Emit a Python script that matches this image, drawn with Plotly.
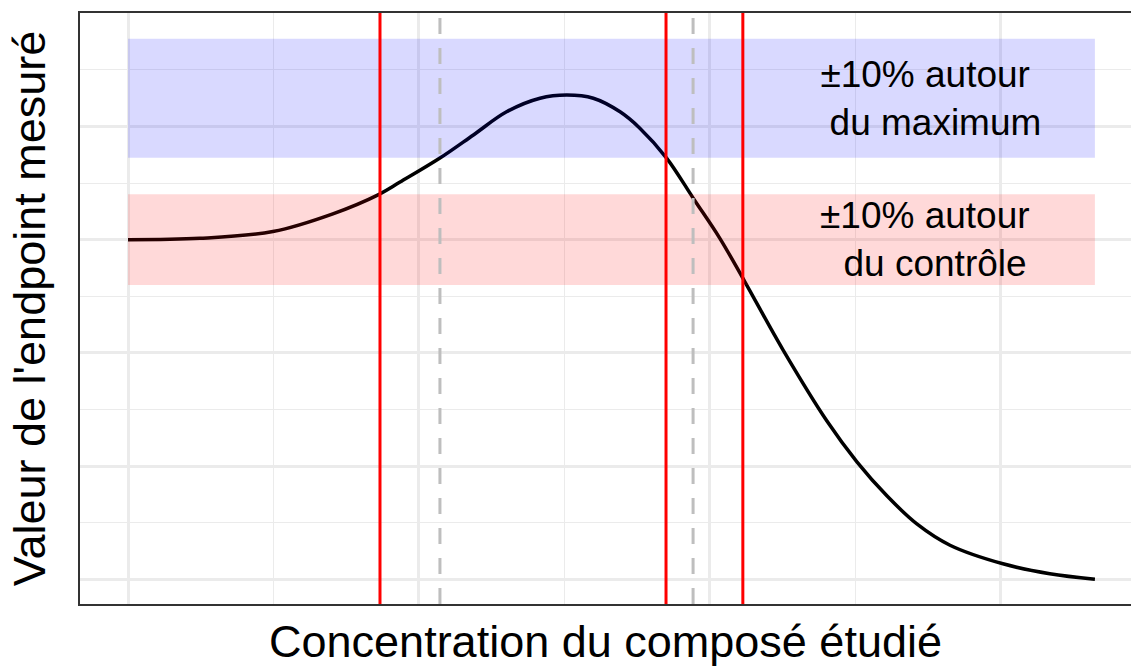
import plotly.graph_objects as go

# ---- data ----
x_curve = [0.000, 0.247, 0.498, 0.704, 0.863, 0.935, 1.072, 1.187, 1.301, 1.416,
           1.508, 1.599, 1.691, 1.759, 1.851, 1.943, 2.034, 2.120, 2.251, 2.402,
           2.505, 2.608, 2.711, 2.825, 3.007, 3.168, 3.323]
y_curve = [100.0, 100.3, 101.8, 105.7, 110.0, 112.7, 118.0, 123.1, 128.2, 131.2,
           131.9, 131.2, 128.2, 124.6, 118.0, 109.1, 100.3, 90.7, 75.7, 60.0,
           51.0, 43.5, 37.3, 32.6, 28.5, 26.3, 25.1]
control_value = 100.0
max_value = 131.2
band_pct = 0.10
red_lines_x = [0.866, 1.849, 2.113]
dashed_lines_x = [1.072, 1.942]
label_x = 2.739
label_max = ["±10% autour", "\u00a0\u00a0du maximum"]
label_ctrl = ["±10% autour", "\u00a0\u00a0du contrôle"]
x_ticks = [0, 1, 2, 3]
y_ticks = [25, 50, 75, 100, 125]
x_title = "Concentration du composé étudié"
y_title = "Valeur de l'endpoint mesuré"

FONT = "Liberation Sans, Arial, Helvetica, sans-serif"

fig = go.Figure()
fig.add_trace(go.Scatter(x=x_curve, y=y_curve, mode="lines",
                         line=dict(color="black", width=3.5, shape="spline", smoothing=1.0),
                         hoverinfo="skip", showlegend=False))

x_lo, x_hi = min(x_curve), max(x_curve)
# bands (drawn above the curve, semi-transparent)
fig.add_shape(type="rect", xref="x", yref="y", x0=x_lo, x1=x_hi,
              y0=max_value * (1 - band_pct), y1=max_value * (1 + band_pct),
              fillcolor="rgba(0,0,255,0.15)", line=dict(width=0), layer="above")
fig.add_shape(type="rect", xref="x", yref="y", x0=x_lo, x1=x_hi,
              y0=control_value * (1 - band_pct), y1=control_value * (1 + band_pct),
              fillcolor="rgba(255,0,0,0.15)", line=dict(width=0), layer="above")

for xv in dashed_lines_x:
    fig.add_shape(type="line", xref="x", yref="paper", x0=xv, x1=xv, y0=0, y1=1,
                  line=dict(color="#BEBEBE", width=3, dash="16px,14px"), layer="above")
for xv in red_lines_x:
    fig.add_shape(type="line", xref="x", yref="paper", x0=xv, x1=xv, y0=0, y1=1,
                  line=dict(color="#FF0000", width=3), layer="above")

fig.add_annotation(x=label_x, y=max_value, text="<br>".join(label_max), showarrow=False,
                   font=dict(family=FONT, size=37, color="black"), align="center",
                   xanchor="center", yanchor="middle")
fig.add_annotation(x=label_x, y=control_value, text="<br>".join(label_ctrl), showarrow=False,
                   font=dict(family=FONT, size=37, color="black"), align="center",
                   xanchor="center", yanchor="middle")

grid_major = "#EBEBEB"
fig.update_layout(
    width=1131, height=667,
    margin=dict(l=80, r=0, t=13, b=63, pad=0),
    paper_bgcolor="white", plot_bgcolor="white",
    font=dict(family=FONT, color="black"),
    showlegend=False,
    xaxis=dict(range=[-0.165, 3.447], tickvals=x_ticks, showticklabels=False, ticks="",
               automargin=False,
               showgrid=True, gridcolor=grid_major, gridwidth=2.5, zeroline=False,
               showline=True, linecolor="#333333", linewidth=2, mirror=True,
               minor=dict(dtick=0.5, tick0=0, showgrid=True, gridcolor=grid_major, gridwidth=1.2),
               title=dict(text=x_title, font=dict(size=45, family=FONT, color="black"), standoff=31)),
    yaxis=dict(range=[19.63, 150.0], tickvals=y_ticks, showticklabels=False, ticks="",
               automargin=False,
               showgrid=True, gridcolor=grid_major, gridwidth=2.5, zeroline=False,
               showline=True, linecolor="#333333", linewidth=2, mirror=False,
               minor=dict(dtick=12.5, tick0=0, showgrid=True, gridcolor=grid_major, gridwidth=1.2),
               title=dict(text=y_title, font=dict(size=45, family=FONT, color="black"), standoff=18)),
)

fig.write_html("out.html", config={"displayModeBar": False},
               post_script="document.body.style.margin='0';document.body.style.overflow='hidden';")
